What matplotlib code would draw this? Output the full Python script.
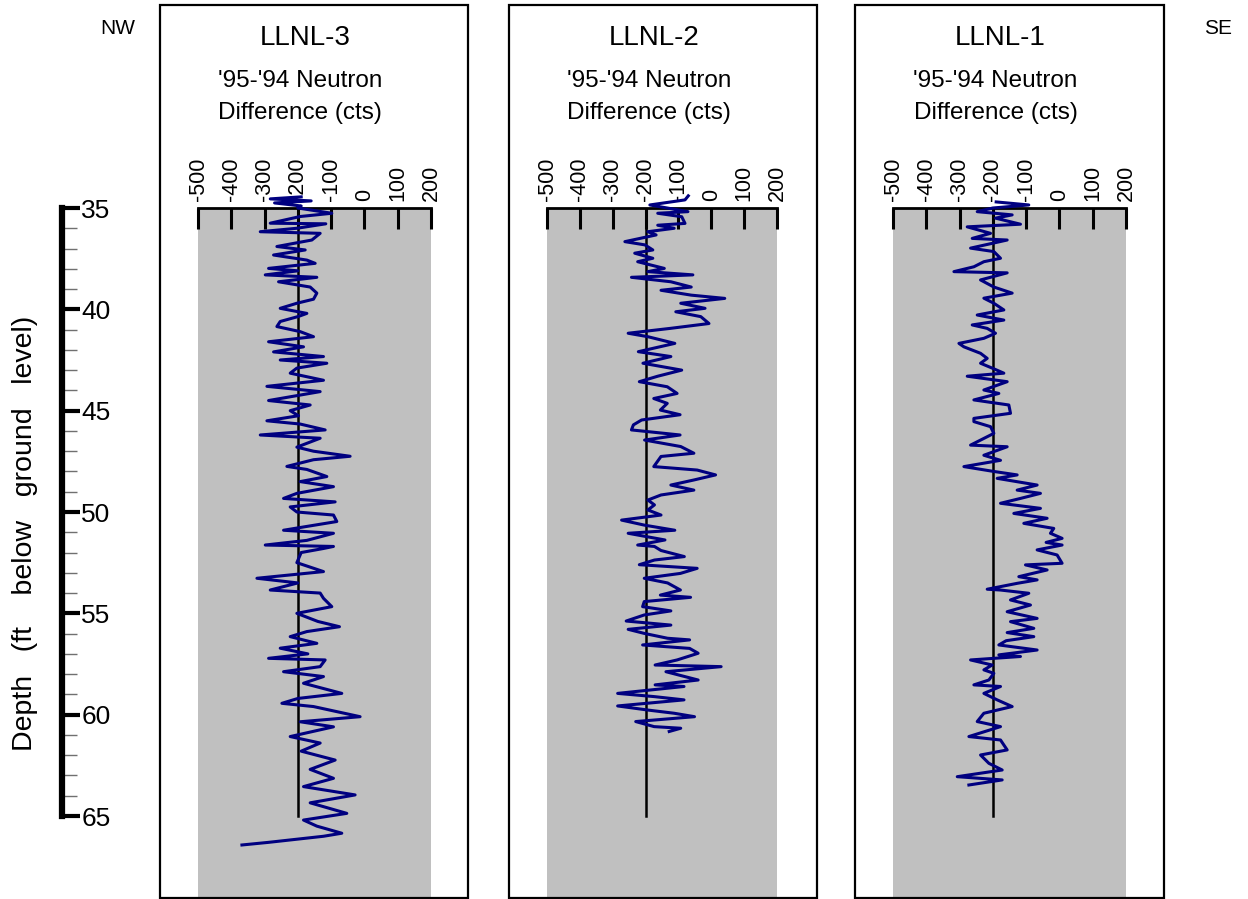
import matplotlib
matplotlib.use("Agg")
import matplotlib.pyplot as plt
from matplotlib.patches import Rectangle
from matplotlib.ticker import FixedLocator

plt.rcParams['font.family'] = ['Liberation Sans', 'DejaVu Sans']

# ---------------- data ----------------
wells = ["LLNL-3", "LLNL-2", "LLNL-1"]
xticks = [-500, -400, -300, -200, -100, 0, 100, 200]
baseline = -200
depth_ticks = [35, 40, 45, 50, 55, 60, 65]
depth_minor = list(range(35, 66))

depth3 = [34.45, 34.55, 34.65, 34.75, 34.9, 35.0, 35.26, 35.42, 35.75, 35.78, 36.0, 36.17, 36.25,
          36.58, 36.9, 37.07, 37.32, 37.57, 37.73, 37.98, 38.1, 38.3, 38.42, 38.64, 38.9, 39.2,
          39.5, 39.7, 39.95, 40.2, 40.35, 40.6, 40.85, 41.1, 41.35, 41.6, 41.85, 42.1, 42.33,
          42.5, 42.66, 42.9, 43.15, 43.5, 43.8, 44.06, 44.5, 44.72, 45.0, 45.25, 45.5, 45.66,
          45.95, 46.2, 46.36, 46.8, 47.0, 47.25, 47.42, 47.75, 47.9, 48.25, 48.5, 48.75, 49.08,
          49.33, 49.5, 49.75, 50.0, 50.15, 50.47, 50.9, 51.05, 51.4, 51.63, 51.7, 51.8, 52.0,
          52.5, 52.94, 53.27, 53.5, 53.85, 54.0, 54.26, 54.67, 55.0, 55.4, 55.66, 55.9, 56.15,
          56.48, 56.72, 57.0, 57.22, 57.3, 57.63, 57.88, 58.12, 58.45, 58.95, 59.2, 59.44, 59.6,
          60.1, 60.35, 60.6, 61.08, 61.4, 61.8, 62.24, 62.7, 63.14, 63.55, 63.96, 64.35, 64.87,
          65.2, 65.5, 65.85, 66.0, 66.3, 66.43]
diff3 = [-190, -283, -160, -270, -190, -200, -98, -193, -283, -116, -203, -313, -133,
         -158, -263, -178, -273, -173, -148, -288, -200, -298, -143, -258, -163, -143,
         -153, -203, -253, -173, -198, -253, -263, -193, -153, -288, -183, -273, -123,
         -253, -113, -203, -223, -123, -293, -133, -288, -163, -223, -198, -293, -193,
         -118, -313, -133, -203, -153, -43, -153, -233, -173, -113, -193, -93, -203,
         -243, -88, -223, -203, -93, -83, -243, -93, -173, -298, -93, -123, -190,
         -203, -123, -323, -200, -283, -133, -123, -98, -203, -140, -75, -173, -223,
         -143, -253, -170, -288, -118, -133, -243, -123, -183, -68, -200, -248, -153,
         -13, -193, -93, -223, -133, -190, -88, -163, -93, -183, -28, -163, -53,
         -183, -143, -68, -123, -288, -368]

depth2 = [34.4, 34.6, 34.85, 35.18, 35.26, 35.43, 35.76, 35.85, 36.0, 36.17, 36.33, 36.66, 36.82,
          37.07, 37.23, 37.48, 37.65, 37.98, 38.14, 38.3, 38.42, 38.64, 38.9, 39.06, 39.3, 39.46,
          39.7, 39.95, 40.12, 40.36, 40.7, 40.94, 41.18, 41.35, 41.68, 42.09, 42.33, 42.66, 43.0,
          43.3, 43.57, 43.82, 44.15, 44.4, 44.64, 44.97, 45.2, 45.46, 45.7, 45.95, 46.2, 46.45,
          46.77, 47.1, 47.26, 47.76, 47.93, 48.17, 48.42, 48.67, 48.92, 49.16, 49.41, 49.65,
          49.9, 50.15, 50.4, 50.65, 50.9, 51.05, 51.38, 51.63, 51.7, 51.9, 52.2, 52.37, 52.6,
          52.78, 53.03, 53.27, 53.5, 53.85, 54.1, 54.21, 54.42, 54.67, 54.88, 55.08, 55.38,
          55.58, 55.79, 55.99, 56.23, 56.31, 56.56, 56.73, 56.97, 57.3, 57.55, 57.63, 57.88,
          58.29, 58.53, 58.61, 58.95, 59.11, 59.27, 59.57, 59.77, 59.93, 60.1, 60.34, 60.59,
          60.67, 60.83]
diff2 = [-70, -80, -187, -71, -163, -90, -80, -163, -113, -193, -168, -263, -202,
         -178, -233, -178, -224, -143, -193, -56, -243, -123, -61, -153, -61, 41,
         -93, -19, -108, -32, -7, -125, -253, -193, -111, -222, -123, -208, -90,
         -163, -219, -134, -104, -175, -134, -155, -95, -212, -237, -243, -95, -203,
         -93, -53, -153, -175, -43, 13, -53, -123, -53, -153, -193, -173,
         -193, -153, -273, -203, -111, -253, -141, -224, -173, -153, -82, -173, -219,
         -43, -94, -204, -133, -94, -155, -63, -204, -209, -123, -204, -259,
         -123, -253, -204, -133, -66, -209, -66, -40, -104, -171, 30, -138,
         -40, -171, -83, -285, -173, -83, -285, -194, -113, -51, -230, -174,
         -93, -128]

depth1 = [34.7, 34.85, 35.0, 35.18, 35.34, 35.5, 35.8, 35.93, 36.25, 36.5, 36.58, 36.98, 37.15,
          37.48, 37.65, 37.9, 38.14, 38.2, 38.55, 38.9, 39.2, 39.45, 39.7, 40.03, 40.28, 40.53,
          40.77, 40.94, 41.18, 41.43, 41.68, 41.85, 42.17, 42.42, 42.66, 42.9, 43.15, 43.3,
          43.57, 43.98, 44.15, 44.47, 44.72, 45.13, 45.38, 45.54, 45.79, 46.12, 46.7, 46.78,
          47.2, 47.45, 47.76, 48.0, 48.17, 48.34, 48.67, 48.92, 49.08, 49.33, 49.57, 49.82,
          50.07, 50.31, 50.56, 50.81, 51.05, 51.3, 51.5, 51.63, 51.87, 52.12, 52.53, 52.61,
          52.86, 53.19, 53.35, 53.52, 53.81, 53.85, 54.01, 54.34, 54.59, 54.92, 55.25, 55.41,
          55.74, 55.95, 56.15, 56.35, 56.56, 56.81, 57.05, 57.13, 57.3, 57.55, 57.79, 57.96,
          58.29, 58.53, 58.61, 58.95, 59.27, 59.6, 59.93, 60.34, 60.59, 61.08, 61.25, 61.74,
          61.99, 62.4, 62.73, 63.06, 63.22, 63.47]
diff1 = [-190, -92, -200, -247, -142, -192, -117, -277, -207, -262, -157, -267, -197,
         -177, -227, -257, -317, -157, -237, -197, -142, -227, -197, -167, -247, -167,
         -262, -217, -192, -227, -302, -287, -237, -217, -237, -202, -167, -277,
         -157, -227, -182, -257, -152, -147, -257, -257, -207, -197, -267, -157,
         -227, -177, -287, -197, -127, -187, -67, -127, -57, -117, -177, -57,
         -137, -37, -107, -17, -27, 8, -40, 8, -67, -7, 8, -102,
         -37, -122, -67, -127, -217, -177, -92, -147, -87, -157, -67, -147,
         -77, -157, -77, -160, -182, -67, -182, -117, -267, -202, -227, -197,
         -212, -257, -177, -227, -187, -142, -227, -247, -177, -272, -177, -157,
         -237, -212, -172, -307, -172, -272]

depths = [depth3, depth2, depth1]
diffs = [diff3, diff2, diff1]

# ---------------- layout (pixels) ----------------
W, H = 1248, 899
fig = plt.figure(figsize=(W / 100, H / 100), dpi=100)

def fx(px):
    return px / W

def fy(py):
    return 1 - py / H

boxes = [(160, 468), (509, 817), (855, 1164)]
grays = [(198, 431), (547, 777), (893, 1126)]
y_top, y_bot = 208, 897
px_per_ft = (816 - 208) / 30.0
depth_bottom = 35 + (y_bot - y_top) / px_per_ft

gray = "#C0C0C0"
navy = "#000080"

for i in range(3):
    bx0, bx1 = boxes[i]
    fig.patches.append(Rectangle((fx(bx0), fy(898)), fx(bx1) - fx(bx0), fy(5) - fy(898),
                                 transform=fig.transFigure, fill=False, edgecolor="black",
                                 linewidth=1.6, zorder=0))
    gx0, gx1 = grays[i]
    ax = fig.add_axes([fx(gx0), fy(y_bot), fx(gx1) - fx(gx0), fy(y_top) - fy(y_bot)])
    ax.set_facecolor(gray)
    ax.set_xlim(xticks[0], xticks[-1])
    ax.set_ylim(depth_bottom, 35)
    for s in ["left", "right", "bottom"]:
        ax.spines[s].set_visible(False)
    ax.spines["top"].set_linewidth(2.0)
    ax.xaxis.tick_top()
    ax.set_xticks(xticks)
    ax.set_xticklabels([str(t) for t in xticks], rotation=90, fontsize=15.5)
    ax.tick_params(axis="x", direction="in", length=15, width=2.2, pad=5, top=True, bottom=False)
    ax.set_yticks([])
    ax.plot([baseline, baseline], [depth_ticks[0], depth_ticks[-1]], color="black", lw=1.8, zorder=2)
    ax.plot(diffs[i], depths[i], color=navy, lw=2.2, clip_on=False, zorder=3)

    cx = (bx0 + bx1) / 2
    fig.text(fx(cx - 9), fy(38), wells[i], ha="center", va="center", fontsize=20)
    fig.text(fx(cx - 14), fy(81), "'95-'94 Neutron", ha="center", va="center", fontsize=17.5)
    fig.text(fx(cx - 14), fy(113), "Difference (cts)", ha="center", va="center", fontsize=17.5)

fig.text(fx(118), fy(29), "NW", ha="center", va="center", fontsize=15)
fig.text(fx(1218), fy(29), "SE", ha="center", va="center", fontsize=15)

# depth axis
axd = fig.add_axes([fx(30), fy(y_bot), fx(62) - fx(30), fy(y_top) - fy(y_bot)])
axd.patch.set_visible(False)
axd.set_ylim(depth_bottom, 35)
axd.set_xticks([])
for s in ["left", "top", "bottom"]:
    axd.spines[s].set_visible(False)
axd.spines["right"].set_linewidth(4.5)
axd.spines["right"].set_bounds(depth_ticks[0], depth_ticks[-1])
axd.yaxis.tick_right()
axd.set_yticks(depth_ticks)
axd.set_yticklabels([str(t) for t in depth_ticks], fontsize=19)
axd.yaxis.set_minor_locator(FixedLocator(depth_minor))
axd.tick_params(axis="y", which="major", direction="out", length=13, width=3, pad=1)
axd.tick_params(axis="y", which="minor", direction="out", length=11, width=1, color="#707070")

fig.text(fx(25), fy(533), "Depth   (ft    below   ground   level)", rotation=90,
         ha="center", va="center", fontsize=20.5)

fig.savefig("out.png", dpi=100)
